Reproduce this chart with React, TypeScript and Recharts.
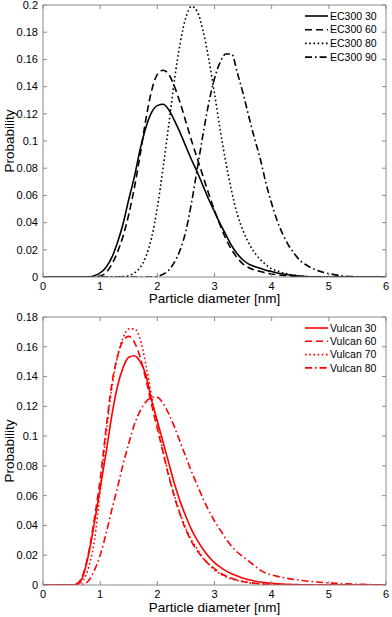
import React from 'react';
import { LineChart, Line, XAxis, YAxis, Legend } from 'recharts';

// particle diameter grid [nm]
const diameters = [
  0, 0.1, 0.2, 0.3, 0.4, 0.5, 0.6, 0.7, 0.8, 0.9,
  1, 1.1, 1.2, 1.3, 1.4, 1.5, 1.6, 1.7, 1.8, 1.9,
  2, 2.1, 2.2, 2.3, 2.4, 2.5, 2.6, 2.7, 2.8, 2.9,
  3, 3.1, 3.2, 3.3, 3.4, 3.5, 3.6, 3.7, 3.8, 3.9,
  4, 4.1, 4.2, 4.3, 4.4, 4.5, 4.6, 4.7, 4.8, 4.9,
  5, 5.1, 5.2, 5.3, 5.4, 5.5, 5.6, 5.7, 5.8, 5.9,
  6,
];

const ec300_30 = [
  0, 0, 0, 0, 0, 0, 0, 0, 0.0002, 0.001,
  0.003, 0.007, 0.014, 0.025, 0.039, 0.057, 0.074, 0.094, 0.11, 0.121,
  0.126, 0.127, 0.123, 0.115, 0.106, 0.096, 0.086, 0.077, 0.067, 0.057,
  0.048, 0.039, 0.031, 0.023, 0.017, 0.0125, 0.0095, 0.0078, 0.0064, 0.005,
  0.004, 0.003, 0.0022, 0.0016, 0.001, 0.0007, 0.0004, 0.0002, 0.0001, 0,
  0, 0, 0, 0, 0, 0, 0, 0, 0, 0,
  0,
];
const ec300_60 = [
  0, 0, 0, 0, 0, 0, 0, 0, 0, 0.0002,
  0.0008, 0.003, 0.009, 0.018, 0.03, 0.046, 0.066, 0.09, 0.116, 0.137,
  0.149, 0.152, 0.149, 0.14, 0.128, 0.114, 0.1, 0.087, 0.074, 0.061,
  0.049, 0.038, 0.028, 0.02, 0.014, 0.0095, 0.0068, 0.0052, 0.004, 0.003,
  0.0022, 0.0016, 0.0011, 0.0007, 0.0004, 0.0002, 0.0001, 0, 0, 0,
  0, 0, 0, 0, 0, 0, 0, 0, 0, 0,
  0,
];
const ec300_80 = [
  0, 0, 0, 0, 0, 0, 0, 0, 0, 0,
  0, 0, 0, 0, 0.0003, 0.001, 0.003, 0.007, 0.015, 0.029,
  0.051, 0.08, 0.112, 0.145, 0.172, 0.191, 0.199, 0.195, 0.181, 0.16,
  0.135, 0.108, 0.084, 0.063, 0.046, 0.034, 0.025, 0.018, 0.013, 0.009,
  0.006, 0.0045, 0.003, 0.002, 0.0013, 0.0008, 0.0004, 0.0002, 0, 0,
  0, 0, 0, 0, 0, 0, 0, 0, 0, 0,
  0,
];
const ec300_90 = [
  0, 0, 0, 0, 0, 0, 0, 0, 0, 0,
  0, 0, 0, 0, 0, 0, 0, 0, 0, 0,
  0.0005, 0.002, 0.005, 0.011, 0.02, 0.034, 0.055, 0.08, 0.105, 0.128,
  0.146, 0.158, 0.164, 0.164, 0.15, 0.135, 0.118, 0.102, 0.087, 0.069,
  0.054, 0.041, 0.031, 0.023, 0.017, 0.012, 0.009, 0.0065, 0.0048, 0.0035,
  0.0025, 0.0017, 0.001, 0.0006, 0.0003, 0.0001, 0, 0, 0, 0,
  0,
];

const vulcan_30 = [
  0, 0, 0, 0, 0, 0, 0.0005, 0.006, 0.021, 0.042,
  0.065, 0.088, 0.113, 0.133, 0.146, 0.153, 0.154, 0.15, 0.141, 0.124,
  0.11, 0.096, 0.082, 0.068, 0.056, 0.046, 0.037, 0.03, 0.024, 0.019,
  0.015, 0.012, 0.0095, 0.0075, 0.006, 0.0045, 0.0035, 0.0027, 0.002, 0.0015,
  0.0011, 0.0008, 0.0006, 0.0004, 0.0003, 0.0002, 0.0001, 0, 0, 0,
  0, 0, 0, 0, 0, 0, 0, 0, 0, 0,
  0,
];
const vulcan_60 = [
  0, 0, 0, 0, 0, 0, 0.001, 0.007, 0.022, 0.045,
  0.071, 0.104, 0.134, 0.153, 0.164, 0.167, 0.163, 0.153, 0.138, 0.121,
  0.105, 0.089, 0.073, 0.059, 0.047, 0.037, 0.029, 0.023, 0.018, 0.014,
  0.011, 0.008, 0.006, 0.0045, 0.0033, 0.0024, 0.0017, 0.0012, 0.0008, 0.0005,
  0.0003, 0.0002, 0.0001, 0, 0, 0, 0, 0, 0, 0,
  0, 0, 0, 0, 0, 0, 0, 0, 0, 0,
  0,
];
const vulcan_70 = [
  0, 0, 0, 0, 0, 0, 0.0003, 0.003, 0.012, 0.03,
  0.063, 0.1, 0.131, 0.153, 0.166, 0.172, 0.172, 0.165, 0.148, 0.127,
  0.108, 0.09, 0.074, 0.06, 0.048, 0.038, 0.03, 0.024, 0.018, 0.014,
  0.01, 0.0075, 0.0055, 0.004, 0.003, 0.0021, 0.0015, 0.001, 0.0007, 0.0004,
  0.0002, 0.0001, 0, 0, 0, 0, 0, 0, 0, 0,
  0, 0, 0, 0, 0, 0, 0, 0, 0, 0,
  0,
];
const vulcan_80 = [
  0, 0, 0, 0, 0, 0, 0, 0.0005, 0.003, 0.01,
  0.02, 0.034, 0.05, 0.065, 0.081, 0.095, 0.108, 0.117, 0.123, 0.126,
  0.126, 0.122, 0.115, 0.106, 0.096, 0.086, 0.076, 0.067, 0.058, 0.05,
  0.043, 0.037, 0.031, 0.026, 0.022, 0.019, 0.016, 0.013, 0.01, 0.008,
  0.0068, 0.0058, 0.005, 0.0043, 0.0037, 0.0032, 0.0027, 0.0023, 0.002, 0.0017,
  0.0014, 0.0012, 0.001, 0.0008, 0.0006, 0.0005, 0.0004, 0.0003, 0.0002, 0.0001,
  0.0001,
];

const xTicks = [0, 1, 2, 3, 4, 5, 6];
const ec300Ticks = [0, 0.02, 0.04, 0.06, 0.08, 0.1, 0.12, 0.14, 0.16, 0.18, 0.2];
const vulcanTicks = [0, 0.02, 0.04, 0.06, 0.08, 0.1, 0.12, 0.14, 0.16, 0.18];

const ec300Names = ['EC300 30', 'EC300 60', 'EC300 80', 'EC300 90'];
const vulcanNames = ['Vulcan 30', 'Vulcan 60', 'Vulcan 70', 'Vulcan 80'];

const FONT = '"Liberation Sans", Arial, Helvetica, sans-serif';
const AXIS = '#8a8a8a';
const DASHES = ['', '7 4', '1.6 2.6', '7 3 1.6 3'];
const W = 392;
const LEFT = 43;
const RIGHT = 6;

const ec300Data = diameters.map((d, i) => ({
  d,
  s0: ec300_30[i],
  s1: ec300_60[i],
  s2: ec300_80[i],
  s3: ec300_90[i],
}));

const vulcanData = diameters.map((d, i) => ({
  d,
  s0: vulcan_30[i],
  s1: vulcan_60[i],
  s2: vulcan_70[i],
  s3: vulcan_80[i],
}));

const fmt = (v: number) => String(Math.round(v * 100) / 100);

const BottomTick = (props: any) => {
  const { x, y, payload } = props;
  return (
    <g>
      <line x1={x} y1={y} x2={x} y2={y - 4} stroke={AXIS} />
      <text x={x} y={y + 13} textAnchor="middle" fontSize={11} fill="#000" fontFamily={FONT}>
        {fmt(payload.value)}
      </text>
    </g>
  );
};

const TopTick = (props: any) => {
  const { x, y } = props;
  return <line x1={x} y1={y} x2={x} y2={y + 4} stroke={AXIS} />;
};

const LeftTick = (props: any) => {
  const { x, y, payload } = props;
  return (
    <g>
      <line x1={x} y1={y} x2={x + 4} y2={y} stroke={AXIS} />
      <text x={x - 5} y={y} dy="0.35em" textAnchor="end" fontSize={11} fill="#000" fontFamily={FONT}>
        {fmt(payload.value)}
      </text>
    </g>
  );
};

const RightTick = (props: any) => {
  const { x, y } = props;
  return <line x1={x} y1={y} x2={x - 4} y2={y} stroke={AXIS} />;
};

interface ChartProps {
  data: any[];
  names: string[];
  color: string;
  yTicks: number[];
  height: number;
  marginTop: number;
  bottomAxisHeight: number;
  legendTop: number;
  legendStep: number;
}

const ProbabilityChart: React.FC<ChartProps> = ({
  data, names, color, yTicks, height, marginTop, bottomAxisHeight, legendTop, legendStep,
}) => {
  const plotTop = marginTop + 5;
  const plotBottom = height - bottomAxisHeight;
  const yMid = (plotTop + plotBottom) / 2;
  const xMid = (LEFT + W - RIGHT) / 2;

  const renderLegend = () => (
    <svg width={88} height={legendStep * 4 + 4} style={{ display: 'block' }}>
      {names.map((name, i) => {
        const cy = 7 + i * legendStep;
        return (
          <g key={name}>
            <line x1={2} y1={cy} x2={25} y2={cy} stroke={color} strokeWidth={1.6} strokeDasharray={DASHES[i]} />
            <text x={27} y={cy} dy="0.35em" fontSize={10.5} fill="#000" fontFamily={FONT}>{name}</text>
          </g>
        );
      })}
    </svg>
  );

  return (
    <LineChart width={W} height={height} data={data} margin={{ top: marginTop, right: 0, bottom: 0, left: 0 }}>
      <XAxis
        xAxisId="bottom"
        dataKey="d"
        type="number"
        domain={[0, 6]}
        ticks={xTicks}
        interval={0}
        height={bottomAxisHeight}
        tickSize={0}
        tickMargin={0}
        tickLine={false}
        tick={<BottomTick />}
        axisLine={{ stroke: AXIS }}
        label={() => (
          <text x={xMid} y={height - 5} textAnchor="middle" fontSize={13.5} fill="#000" fontFamily={FONT}>
            Particle diameter [nm]
          </text>
        )}
      />
      <XAxis
        xAxisId="top"
        orientation="top"
        dataKey="d"
        type="number"
        domain={[0, 6]}
        ticks={xTicks}
        interval={0}
        height={5}
        tickSize={0}
        tickMargin={0}
        tickLine={false}
        tick={<TopTick />}
        axisLine={{ stroke: AXIS }}
      />
      <YAxis
        yAxisId="left"
        type="number"
        domain={[0, yTicks[yTicks.length - 1]]}
        ticks={yTicks}
        interval={0}
        width={LEFT}
        tickSize={0}
        tickMargin={0}
        tickLine={false}
        tick={<LeftTick />}
        axisLine={{ stroke: AXIS }}
        allowDataOverflow
        label={() => (
          <text
            x={9}
            y={yMid}
            transform={`rotate(-90 9 ${yMid})`}
            dy="0.35em"
            textAnchor="middle"
            fontSize={13.5}
            fill="#000"
            fontFamily={FONT}
          >
            Probability
          </text>
        )}
      />
      <YAxis
        yAxisId="right"
        orientation="right"
        type="number"
        domain={[0, yTicks[yTicks.length - 1]]}
        ticks={yTicks}
        interval={0}
        width={RIGHT}
        tickSize={0}
        tickMargin={0}
        tickLine={false}
        tick={<RightTick />}
        axisLine={{ stroke: AXIS }}
        allowDataOverflow
      />
      <Legend
        layout="vertical"
        align="center"
        verticalAlign="middle"
        wrapperStyle={{ left: 303, top: legendTop, width: 88 }}
        content={renderLegend}
      />
      {names.map((name, i) => (
        <Line
          key={name}
          xAxisId="bottom"
          yAxisId="left"
          type="monotone"
          dataKey={`s${i}`}
          name={name}
          stroke={color}
          strokeWidth={1.6}
          strokeDasharray={DASHES[i]}
          dot={false}
          activeDot={false}
          isAnimationActive={false}
        />
      ))}
    </LineChart>
  );
};

export default function App() {
  return (
    <div style={{ position: 'absolute', left: 0, top: 0, width: W, height: 617, background: '#fff', fontFamily: FONT }}>
      <ProbabilityChart
        data={ec300Data}
        names={ec300Names}
        color="#000000"
        yTicks={ec300Ticks}
        height={308}
        marginTop={0}
        bottomAxisHeight={31}
        legendTop={9}
        legendStep={13.7}
      />
      <ProbabilityChart
        data={vulcanData}
        names={vulcanNames}
        color="#ff0000"
        yTicks={vulcanTicks}
        height={309}
        marginTop={4}
        bottomAxisHeight={32}
        legendTop={13}
        legendStep={13.3}
      />
    </div>
  );
}
